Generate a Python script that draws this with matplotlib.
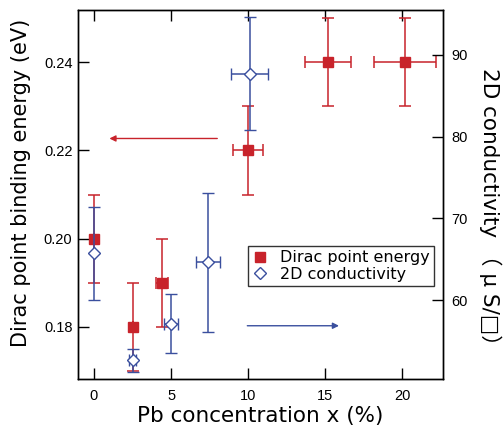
import matplotlib
matplotlib.use("Agg")
import matplotlib.pyplot as plt
from matplotlib.lines import Line2D

# Dirac point energy (left axis)
pb_red = [0.0, 2.5, 4.4, 10.0, 15.2, 20.2]
energy = [0.20, 0.18, 0.19, 0.22, 0.24, 0.24]
energy_err = [0.01, 0.01, 0.01, 0.01, 0.01, 0.01]
pb_red_err = [0.0, 0.0, 0.4, 1.0, 1.5, 2.0]

# 2D conductivity (right axis)
pb_blue = [0.0, 2.5, 5.0, 7.4, 10.1]
cond = [65.7, 52.6, 57.1, 64.6, 87.7]
cond_err = [5.7, 1.4, 3.6, 8.5, 6.9]
pb_blue_err = [0.0, 0.2, 0.45, 0.8, 1.2]

xticks = [0, 5, 10, 15, 20]
yticks_left = [0.18, 0.20, 0.22, 0.24]
yticks_right = [60, 70, 80, 90]

RED = "#c8232b"
BLUE = "#3a4f9e"
LABF = ["DejaVu Sans", "Noto Sans CJK JP"]
TICKF = "Liberation Sans"

fig = plt.figure(figsize=(5.03, 4.30), dpi=100)
ax = fig.add_axes([0.155, 0.1186, 0.726, 0.858])
ax2 = ax.twinx()

ax2.errorbar(pb_blue, cond, yerr=cond_err, xerr=pb_blue_err, fmt='D', ms=6,
             mfc='white', mec=BLUE, mew=1.0, color=BLUE, ecolor=BLUE,
             elinewidth=1.1, capsize=4, capthick=1.1, zorder=3)
ax.errorbar(pb_red, energy, yerr=energy_err, xerr=pb_red_err, fmt='s', ms=7,
            mfc=RED, mec=RED, color=RED, ecolor=RED,
            elinewidth=1.1, capsize=4, capthick=1.1, zorder=3)

ax.set_xlim(-1.04, 22.66)
ax.set_ylim(0.1682, 0.2518)
ax2.set_ylim(50.33, 95.5)

ax.set_xticks(xticks)
ax.set_yticks(yticks_left)
ax.set_yticklabels([f"{v:.2f}" for v in yticks_left])
ax2.set_yticks(yticks_right)

ax.tick_params(axis='x', direction='in', length=8, width=1, top=True, pad=7,
               labelsize=10.5)
ax.tick_params(axis='y', direction='in', length=8, width=1, pad=4, labelsize=10.5)
ax2.tick_params(axis='y', direction='in', length=8, width=1, pad=6, labelsize=10.5)
for lab in ax.get_xticklabels() + ax.get_yticklabels() + ax2.get_yticklabels():
    lab.set_fontfamily(TICKF)

for a in (ax, ax2):
    for s in a.spines.values():
        s.set_linewidth(1.0)

ax.set_xlabel("Pb concentration x (%)", family=LABF, fontsize=15.5, labelpad=2)
ax.set_ylabel("Dirac point binding energy (eV)", family=LABF, fontsize=15)
ax.yaxis.set_label_coords(-0.128, 0.531)
ax2.set_ylabel("2D conductivity （ μ S/□）", family=LABF, fontsize=15.5,
               rotation=270, va='center', ha='center')
ax2.yaxis.set_label_coords(1.13, 0.453)

# arrows
ax.annotate("", xy=(1.0, 0.2227), xytext=(8.0, 0.2227),
            arrowprops=dict(arrowstyle='-|>', color=RED, lw=1.0,
                            mutation_scale=9, shrinkA=0, shrinkB=0))
ax2.annotate("", xy=(15.9, 56.85), xytext=(9.95, 56.85),
             arrowprops=dict(arrowstyle='-|>', color=BLUE, lw=1.0,
                             mutation_scale=9, shrinkA=0, shrinkB=0))

handles = [Line2D([], [], marker='s', ls='none', ms=7, mfc=RED, mec=RED),
           Line2D([], [], marker='D', ls='none', ms=6, mfc='white', mec=BLUE, mew=1.0)]
leg = ax2.legend(handles, ["Dirac point energy", "2D conductivity"],
                 loc='upper right', bbox_to_anchor=(0.975, 0.36),
                 prop={'family': LABF, 'size': 11.5}, frameon=True, fancybox=False,
                 edgecolor='black', handlelength=1.0, handletextpad=0.8,
                 borderpad=0.25, labelspacing=0.1, borderaxespad=0)
leg.get_frame().set_linewidth(1.0)
leg.set_zorder(10)

fig.savefig("out.png", dpi=100)
